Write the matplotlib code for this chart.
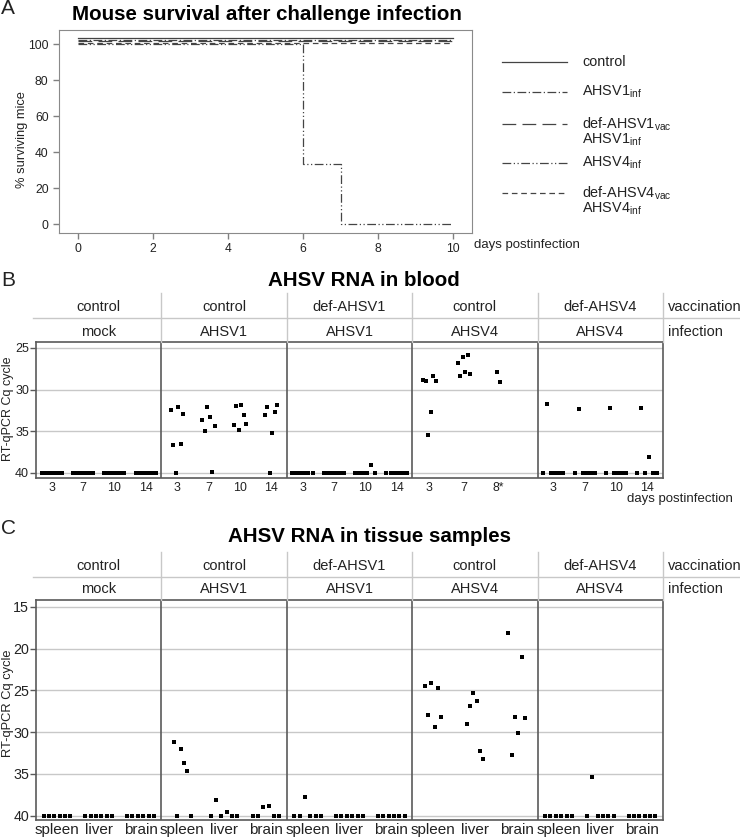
import numpy as np
import matplotlib
matplotlib.use('Agg')
import matplotlib.pyplot as plt
from matplotlib.lines import Line2D

plt.rcParams['font.family'] = ['Liberation Sans', 'DejaVu Sans']
plt.rcParams['mathtext.fontset'] = 'custom'
plt.rcParams['mathtext.rm'] = 'Liberation Sans'
plt.rcParams['mathtext.it'] = 'Liberation Sans:italic'
plt.rcParams['mathtext.bf'] = 'Liberation Sans:bold'

W, H = 740, 840
GREY = '#5a5a5a'
LIGHT = '#c8c8c8'
TXT = '#222222'

# ---------------- data ----------------
# A: survival curves
surv_labels = [['control'],
               [r'AHSV1$_{\mathrm{inf}}$'],
               [r'def-AHSV1$_{\mathrm{vac}}$', r'AHSV1$_{\mathrm{inf}}$'],
               [r'AHSV4$_{\mathrm{inf}}$'],
               [r'def-AHSV4$_{\mathrm{vac}}$', r'AHSV4$_{\mathrm{inf}}$']]
surv_days = [[0, 10], [0, 10], [0, 10], [0, 6, 7, 10], [0, 10]]
surv_pct = [[100, 100], [100, 100], [100, 100], [100, 33.3, 0, 0], [100, 100]]
surv_styles = ['-', (0, (7, 2, 1, 2)), (0, (11, 5)), (0, (7, 2, 1, 2, 1, 2)), (0, (4.5, 3))]
surv_shift = [3.4, 2.6, 1.8, 0.0, 1.0]  # small offsets so the 100% lines don't hide each other

vaccination = ['control', 'control', 'def-AHSV1', 'control', 'def-AHSV4']
infection = ['mock', 'AHSV1', 'AHSV1', 'AHSV4', 'AHSV4']

# B: RNA in blood (Cq per mouse, one list per sampling day)
blood_days = [['3', '7', '10', '14'], ['3', '7', '10', '14'], ['3', '7', '10', '14'],
              ['3', '7', '8*'], ['3', '7', '10', '14']]
blood_mock = [[40, 40, 40, 40, 40, 40], [40, 40, 40, 40, 40, 40],
              [40, 40, 40, 40, 40, 40], [40, 40, 40, 40, 40, 40]]
blood_ahsv1 = [[32.4, 36.7, 40.0, 32.1, 36.5, 32.9],
               [33.7, 35.0, 32.1, 33.3, 39.9, 34.4],
               [34.2, 32.0, 34.8, 31.9, 33.1, 34.1],
               [33.1, 32.1, 40.0, 35.2, 32.7, 31.8]]
blood_def1 = [[40, 40, 40, 40, 40, 40], [40, 40, 40, 40, 40, 40],
              [40, 40, 40, 40, 39.1, 40], [40, 40, 40, 40, 40, 40]]
blood_ahsv4 = [[28.9, 29.0, 35.5, 32.7, 28.4, 29.0],
               [26.8, 28.4, 26.1, 27.9, 25.9, 28.1],
               [27.9, 29.1]]
blood_def4 = [[40, 31.7, 40, 40, 40, 40],
              [40, 32.3, 40, 40, 40, 40],
              [40, 32.2, 40, 40, 40, 40],
              [40, 32.2, 40, 38.1, 40, 40]]
blood = [blood_mock, blood_ahsv1, blood_def1, blood_ahsv4, blood_def4]

# C: RNA in tissue samples
tissues = ['spleen', 'liver', 'brain']
tissue_mock = [[40, 40, 40, 40, 40, 40], [40, 40, 40, 40, 40, 40], [40, 40, 40, 40, 40, 40]]
tissue_ahsv1 = [[31.2, 40, 32.0, 33.7, 34.7, 40],
                [40, 38.1, 40, 39.6, 40, 40],
                [40, 40, 38.9, 38.8, 40, 40]]
tissue_def1 = [[40, 40, 37.7, 40, 40, 40], [40, 40, 40, 40, 40, 40], [40, 40, 40, 40, 40, 40]]
tissue_ahsv4 = [[24.5, 28.0, 24.1, 29.4, 24.7, 28.2],
                [29.0, 26.9, 25.3, 26.3, 32.3, 33.2],
                [18.1, 32.7, 28.2, 30.1, 21.0, 28.3]]
tissue_def4 = [[40, 40, 40, 40, 40, 40], [40, 35.3, 40, 40, 40, 40], [40, 40, 40, 40, 40, 40]]
tissue = [tissue_mock, tissue_ahsv1, tissue_def1, tissue_ahsv4, tissue_def4]


def fx(x):
    return x / W


def fy(y):
    return 1 - y / H


def px_axes(fig, left, top, right, bottom):
    return fig.add_axes([fx(left), fy(bottom), (right - left) / W, (bottom - top) / H])


def swarm(values, center):
    n = len(values)
    spread = 0.32 if sum(v >= 40 for v in values) >= 4 else 0.2
    if n == 1:
        return np.array([center])
    return center + np.linspace(-spread, spread, n) * (n - 1) / 5


def dot_panel(fig, data, cats, centers, pw, top, bottom, head_top, r1_y, line_y, r2_y,
              ylim, yticks, xfs, yfs, xpad):
    n = len(data)
    ax = px_axes(fig, 36, top, 663, bottom)
    ax.set_xlim(0, n * pw)
    ax.set_ylim(*ylim)
    ticks, labels = [], []
    for i, groups in enumerate(data):
        for c, vals, lab in zip(centers[i], groups, cats[i]):
            x0 = i * pw + c
            ax.plot(swarm(vals, x0), vals, 's', ms=2.5, color='black', mew=0, zorder=3)
            ticks.append(x0)
            labels.append(lab)
    for k in range(1, n):
        ax.axvline(k * pw, color=GREY, lw=1.2, zorder=2)
    for yv in yticks:
        ax.axhline(yv, color=LIGHT, lw=1, zorder=1)
    ax.set_xticks(ticks)
    ax.set_xticklabels(labels, fontsize=xfs, color=TXT)
    ax.set_yticks(yticks)
    ax.set_yticklabels([str(v) for v in yticks], fontsize=yfs, color=TXT)
    ax.tick_params(axis='x', length=0, pad=xpad)
    ax.tick_params(axis='y', length=4, width=1, color=GREY, pad=1)
    for s in ax.spines.values():
        s.set_color(GREY)
        s.set_linewidth(1.2)

    # header table with vaccination / infection
    hh = top - head_top
    hd = px_axes(fig, 36, head_top, 663, top)
    hd.set_xlim(0, n * pw)
    hd.set_ylim(0, hh)
    hd.axis('off')
    upp = n * pw / 627.0
    for k in range(1, n + 1):
        hd.plot([k * pw, k * pw], [0, hh], color=LIGHT, lw=1, clip_on=False)
    hd.plot([-3 * upp, n * pw + 80 * upp], [top - line_y] * 2, color=LIGHT, lw=1, clip_on=False)
    for i in range(n):
        hd.text((i + 0.5) * pw, top - r1_y, vaccination[i], ha='center', va='center',
                fontsize=10.5, color=TXT)
        hd.text((i + 0.5) * pw, top - r2_y, infection[i], ha='center', va='center',
                fontsize=10.5, color=TXT)
    hd.text(n * pw + 5 * upp, top - r1_y, 'vaccination', ha='left', va='center',
            fontsize=10.5, color=TXT, clip_on=False)
    hd.text(n * pw + 5 * upp, top - r2_y, 'infection', ha='left', va='center',
            fontsize=10.5, color=TXT, clip_on=False)
    return ax


fig = plt.figure(figsize=(W / 100, H / 100), dpi=100)
fig.patch.set_facecolor('white')

# ---------------- A ----------------
fig.text(fx(1), fy(9), 'A', fontsize=15, color=TXT, ha='left', va='center')
fig.text(fx(267), fy(15), 'Mouse survival after challenge infection', fontsize=14.8,
         fontweight='bold', ha='center', va='center', color='black')
axA = px_axes(fig, 59, 30, 472, 233)
for days, pct, ls, dy in zip(surv_days, surv_pct, surv_styles, surv_shift):
    axA.plot(days, np.array(pct) + dy, drawstyle='steps-post', ls=ls, color='#444444', lw=0.9)
axA.set_xlim(-0.5, 10.5)
axA.set_ylim(-5, 108)
axA.set_xticks(range(0, 11, 2))
axA.set_yticks(range(0, 101, 20))
axA.tick_params(labelsize=8.7, colors='#808080', labelcolor=TXT, length=4, width=1)
for s in axA.spines.values():
    s.set_color('#8a8a8a')
fig.text(fx(22), fy(140), '% surviving mice', rotation=90, fontsize=9.3, color=TXT,
         ha='center', va='center')
fig.text(fx(474), fy(245), 'days postinfection', fontsize=9.5, color=TXT, ha='left', va='center')

# legend drawn by hand to the right of the plot
leg_y = [62, 92, 124, 163, 193]
for yy, labs, ls in zip(leg_y, surv_labels, surv_styles):
    fig.add_artist(Line2D([fx(502), fx(567)], [fy(yy), fy(yy)], transform=fig.transFigure,
                          ls=ls, color='#444444', lw=0.9))
    for j, lab in enumerate(labs):
        fig.text(fx(582), fy(yy + 16 * j), lab, fontsize=10.4, color=TXT, ha='left', va='center')

# ---------------- B ----------------
fig.text(fx(1), fy(281), 'B', fontsize=15, color=TXT, ha='left', va='center')
fig.text(fx(364), fy(281), 'AHSV RNA in blood', fontsize=14.8, fontweight='bold',
         ha='center', va='center', color='black')
blood_centers = [[0.5, 1.5, 2.5, 3.5]] * 3 + [[0.55, 1.65, 2.75]] + [[0.5, 1.5, 2.5, 3.5]]
dot_panel(fig, blood, blood_days, blood_centers, 4, 342, 478, 293, 307, 318, 332,
          (40.6, 24.3), [25, 30, 35, 40], 8.9, 9.0, 3)
fig.text(fx(8), fy(409), 'RT-qPCR Cq cycle', rotation=90, fontsize=9.0, color=TXT,
         ha='center', va='center')
fig.text(fx(627), fy(499), 'days postinfection', fontsize=9.5, color=TXT, ha='left', va='center')

# ---------------- C ----------------
fig.text(fx(1), fy(528), 'C', fontsize=15, color=TXT, ha='left', va='center')
fig.text(fx(370), fy(536), 'AHSV RNA in tissue samples', fontsize=14.8, fontweight='bold',
         ha='center', va='center', color='black')
dot_panel(fig, tissue, [tissues] * 5, [[0.5, 1.5, 2.5]] * 5, 3, 600, 820, 552, 566, 577, 589,
          (40.5, 14.2), [15, 20, 25, 30, 35, 40], 11, 10.3, 2)
fig.text(fx(8), fy(703), 'RT-qPCR Cq cycle', rotation=90, fontsize=9.3, color=TXT,
         ha='center', va='center')

fig.savefig('out.png', dpi=100, facecolor='white')
